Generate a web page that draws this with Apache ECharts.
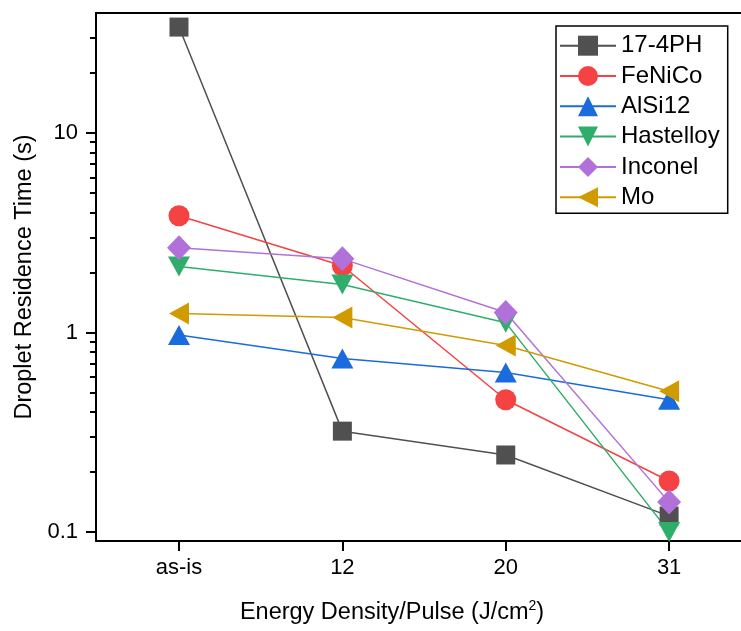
<!DOCTYPE html>
<html>
<head>
<meta charset="utf-8">
<script src="https://cdn.jsdelivr.net/npm/echarts@6/dist/echarts.min.js"></script>
<style>
html,body{margin:0;padding:0;background:#fff;}
#chart{width:741px;height:631px;}
</style>
</head>
<body>
<div id="chart"></div>
<script>
// ---- data ----
const categories = ['as-is', '12', '20', '31'];
const seriesNames = ['17-4PH', 'FeNiCo', 'AlSi12', 'Hastelloy', 'Inconel', 'Mo'];
const v174PH     = [34.0, 0.32, 0.243, 0.12];
const vFeNiCo    = [3.85, 2.16, 0.46, 0.18];
const vAlSi12    = [0.97, 0.74, 0.63, 0.46];
const vHastelloy = [2.14, 1.74, 1.12, 0.10];
const vInconel   = [2.66, 2.34, 1.26, 0.141];
const vMo        = [1.245, 1.19, 0.86, 0.507];
const yMajorTicks = [0.1, 1, 10];
const yMinorTicks = [0.2,0.3,0.4,0.5,0.6,0.7,0.8,0.9,2,3,4,5,6,7,8,9,20,30];

// ---- styles ----
const colors = ['#505050', '#F54242', '#1A6BDD', '#2FAE6B', '#B270DB', '#D09B00'];
const symbols = ['rect', 'circle', 'triangle', 'triangle', 'diamond', 'triangle'];
const symbolSizes = [19, 21, [22, 20], [22, 20], [24, 25], [22, 20]];
const symbolRotates = [0, 0, 0, 180, 0, 90];
const values = [v174PH, vFeNiCo, vAlSi12, vHastelloy, vInconel, vMo];
const FONT = '"Liberation Sans", Arial, sans-serif';

const series = seriesNames.map((name, i) => ({
  name: name,
  type: 'line',
  xAxisIndex: 0,
  yAxisIndex: 0,
  data: values[i].map((v, j) => [j, v]),
  symbol: symbols[i],
  symbolSize: symbolSizes[i],
  symbolRotate: symbolRotates[i],
  showAllSymbol: true,
  itemStyle: { color: colors[i], opacity: 1 },
  lineStyle: { color: colors[i], width: 1.5 },
  emphasis: { disabled: true },
  animation: false
}));

const chart = echarts.init(document.getElementById('chart'), null, { renderer: 'canvas' });
chart.setOption({
  animation: false,
  backgroundColor: '#ffffff',
  grid: { left: 96, right: 0, top: 13, bottom: 90, containLabel: false },
  legend: {
    left: 556, top: 26,
    orient: 'vertical',
    data: seriesNames,
    itemWidth: 56, itemHeight: 25, itemGap: 5.3,
    padding: [7.2, 8, 3.5, 3],
    borderColor: '#000', borderWidth: 1.5,
    textStyle: { fontFamily: FONT, fontSize: 24, color: '#000', lineHeight: 25 },
    selectedMode: false
  },
  xAxis: [{
    type: 'value',
    min: -0.508, max: 3.44,
    position: 'bottom',
    name: '{a|Energy Density/Pulse (J/cm}{s|2}{a|)}',
    nameLocation: 'middle',
    nameGap: 58,
    nameTextStyle: {
      padding: [0, 53, 0, 0],
      rich: {
        a: { fontFamily: FONT, fontSize: 23.5, color: '#000', verticalAlign: 'bottom', lineHeight: 26 },
        s: { fontFamily: FONT, fontSize: 14, color: '#000', verticalAlign: 'top', lineHeight: 26, padding: [0,0,10,0] }
      }
    },
    splitLine: { show: false },
    axisLine: { show: true, onZero: false, lineStyle: { color: '#000', width: 2 } },
    axisTick: { show: true, inside: false, length: 10, lineStyle: { color: '#000', width: 2 }, customValues: [0,1,2,3] },
    axisLabel: {
      customValues: [0,1,2,3],
      formatter: v => categories[Math.round(v)],
      fontFamily: FONT, fontSize: 22, color: '#000', margin: 16
    }
  }, {
    type: 'value',
    min: -0.508, max: 3.44,
    position: 'top',
    splitLine: { show: false },
    axisLine: { show: true, onZero: false, lineStyle: { color: '#000', width: 2 } },
    axisTick: { show: false },
    axisLabel: { show: false }
  }],
  yAxis: [{
    type: 'log',
    logBase: 10,
    min: 0.09, max: 40,
    position: 'left',
    name: 'Droplet Residence Time (s)',
    nameLocation: 'middle',
    nameGap: 58,
    nameTextStyle: { fontFamily: FONT, fontSize: 23.5, color: '#000' },
    splitLine: { show: false },
    axisLine: { show: true, onZero: false, lineStyle: { color: '#000', width: 2 } },
    axisTick: { show: true, inside: false, length: 10, lineStyle: { color: '#000', width: 2 }, customValues: yMajorTicks },
    minorTick: { show: false },
    axisLabel: {
      customValues: yMajorTicks,
      formatter: v => String(v),
      fontFamily: FONT, fontSize: 22, color: '#000', margin: 18
    }
  }, {
    type: 'log',
    logBase: 10,
    min: 0.09, max: 40,
    position: 'left',
    splitLine: { show: false },
    axisLine: { show: false, onZero: false },
    axisTick: { show: true, inside: false, length: 6, lineStyle: { color: '#000', width: 2 }, customValues: yMinorTicks },
    axisLabel: { show: false }
  }],
  series: series
});
</script>
</body>
</html>
